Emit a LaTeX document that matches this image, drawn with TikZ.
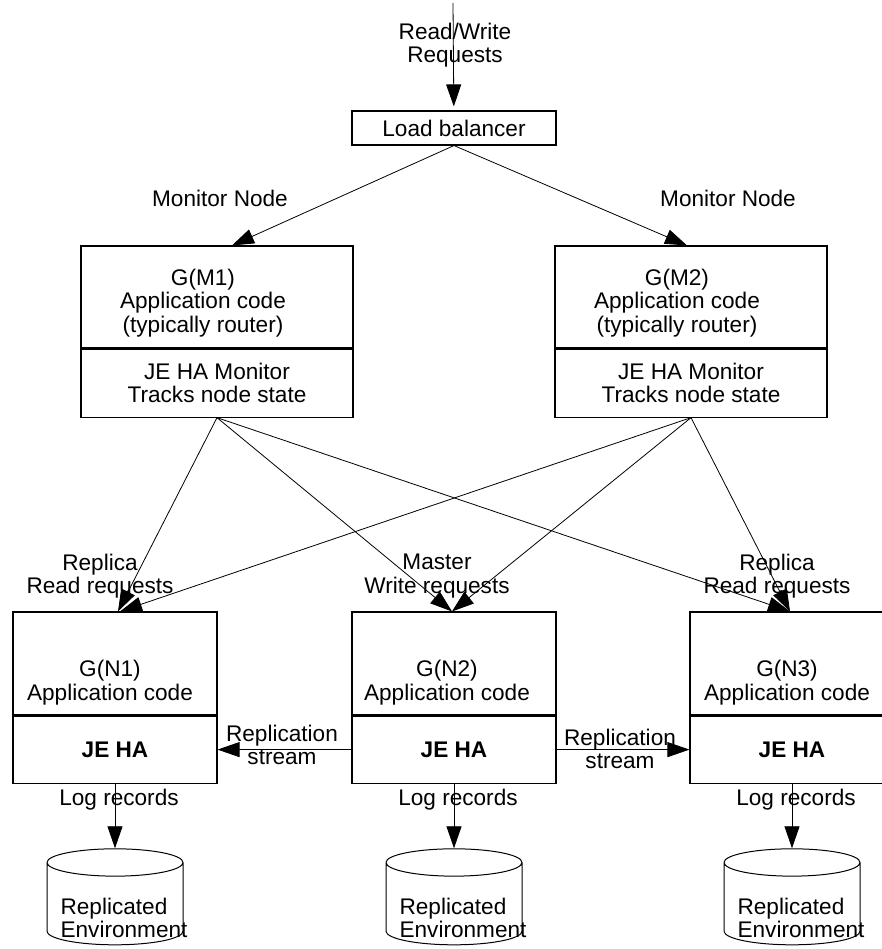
\documentclass[tikz,border=0pt]{standalone}
\usepackage{fontspec}
\setmainfont{Liberation Sans}
\usepackage{tikz}
\usetikzlibrary{shapes,arrows,arrows.meta,positioning}

\begin{document}
\begin{tikzpicture}[x=1pt, y=-1pt]
\tikzstyle{txt} = [align=center, inner sep=0pt, font=\fontsize{22.6}{23.5}\selectfont]
\tikzstyle{box} = [draw, line width=1.1pt, txt, minimum width=204pt]
\tikzstyle{mbox} = [box, minimum width=272pt]
\tikzstyle{arr} = [draw, line width=0.8pt, -{Triangle[length=22pt, width=15pt]}]
\tikzstyle{db} = [cylinder, shape border rotate=90, draw, line width=1pt, minimum width=136pt, minimum height=96pt, aspect=4.1]
\useasboundingbox (0,0) rectangle (882,949);

\coordinate (in) at (453,3);
\node[txt] (rw) at (455,45) {Read/Write\\Requests};
\node[box, minimum height=34pt] (lb) at (454,128) {Load balancer};

\node[txt] (mon1) at (220,198) {Monitor Node};
\node[txt] (mon2) at (728,198) {Monitor Node};
\node[mbox, minimum height=102pt] (m1top) at (217,297) {};
\node[mbox, minimum height=68pt, below=0pt of m1top] (m1bot) {JE HA Monitor\\Tracks node state};
\node[txt] (m1txt) at ([xshift=-14pt, yshift=-6pt]m1top.center) {G(M1)\\Application code\\(typically router)};
\node[mbox, minimum height=102pt] (m2top) at (691,297) {};
\node[mbox, minimum height=68pt, below=0pt of m2top] (m2bot) {JE HA Monitor\\Tracks node state};
\node[txt] (m2txt) at ([xshift=-14pt, yshift=-6pt]m2top.center) {G(M2)\\Application code\\(typically router)};

\node[txt] (rep1) at (100,576) {Replica\\Read requests};
\node[txt] (mas2) at (437,576) {Master\\Write requests};
\node[txt] (rep3) at (777,576) {Replica\\Read requests};

\node[box, minimum height=103pt] (n1top) at (115,663.5) {};
\node[box, minimum height=67pt, below=0pt of n1top] (n1bot) {\bfseries JE HA};
\node[txt] (n1txt) at ([xshift=-5pt, yshift=-19pt]n1top.center) {G(N1)\\Application code};
\node[box, minimum height=103pt] (n2top) at (454,663.5) {};
\node[box, minimum height=67pt, below=0pt of n2top] (n2bot) {\bfseries JE HA};
\node[txt] (n2txt) at ([xshift=-7pt, yshift=-19pt]n2top.center) {G(N2)\\Application code};
\node[box, minimum height=103pt] (n3top) at (792,663.5) {};
\node[box, minimum height=67pt, below=0pt of n3top] (n3bot) {\bfseries JE HA};
\node[txt] (n3txt) at ([xshift=-5pt, yshift=-19pt]n3top.center) {G(N3)\\Application code};

\node[txt] (repl1) at (282,745) {Replication\\stream};
\node[txt] (repl3) at (620,749) {Replication\\stream};

\node[txt] (log1) at (119,800) {Log records};
\node[txt] (log2) at (458,800) {Log records};
\node[txt] (log3) at (796,800) {Log records};

\node[db] (db1) at (115,906) {};
\node[db] (db2) at (454,906) {};
\node[db] (db3) at (792,906) {};
\node[txt, align=left] (env1) at (124,918) {Replicated\\Environment};
\node[txt, align=left] (env2) at (463,918) {Replicated\\Environment};
\node[txt, align=left] (env3) at (801,918) {Replicated\\Environment};

\draw[arr, shorten >=4pt] (in) -- (lb);
\draw[arr] (lb.south) -- ([xshift=15pt]m1top.north);
\draw[arr] (lb.south) -- ([xshift=-4pt]m2top.north);

\draw[arr] (m1bot.south) -- ([xshift=3pt]n1top.north);
\draw[arr] (m1bot.south) -- ([xshift=-2pt]n2top.north);
\draw[arr] (m1bot.south) -- ([xshift=-2pt]n3top.north);
\draw[arr] (m2bot.south) -- ([xshift=5pt]n1top.north);
\draw[arr] (m2bot.south) -- ([xshift=-2pt]n2top.north);
\draw[arr] (m2bot.south) -- ([xshift=-2pt]n3top.north);

\draw[arr] (n2bot.west) -- (n1bot.east);
\draw[arr] (n2bot.east) -- (n3bot.west);

\draw[arr] (n1bot.south) -- (db1.north);
\draw[arr] (n2bot.south) -- (db2.north);
\draw[arr] (n3bot.south) -- (db3.north);
\end{tikzpicture}
\end{document}
